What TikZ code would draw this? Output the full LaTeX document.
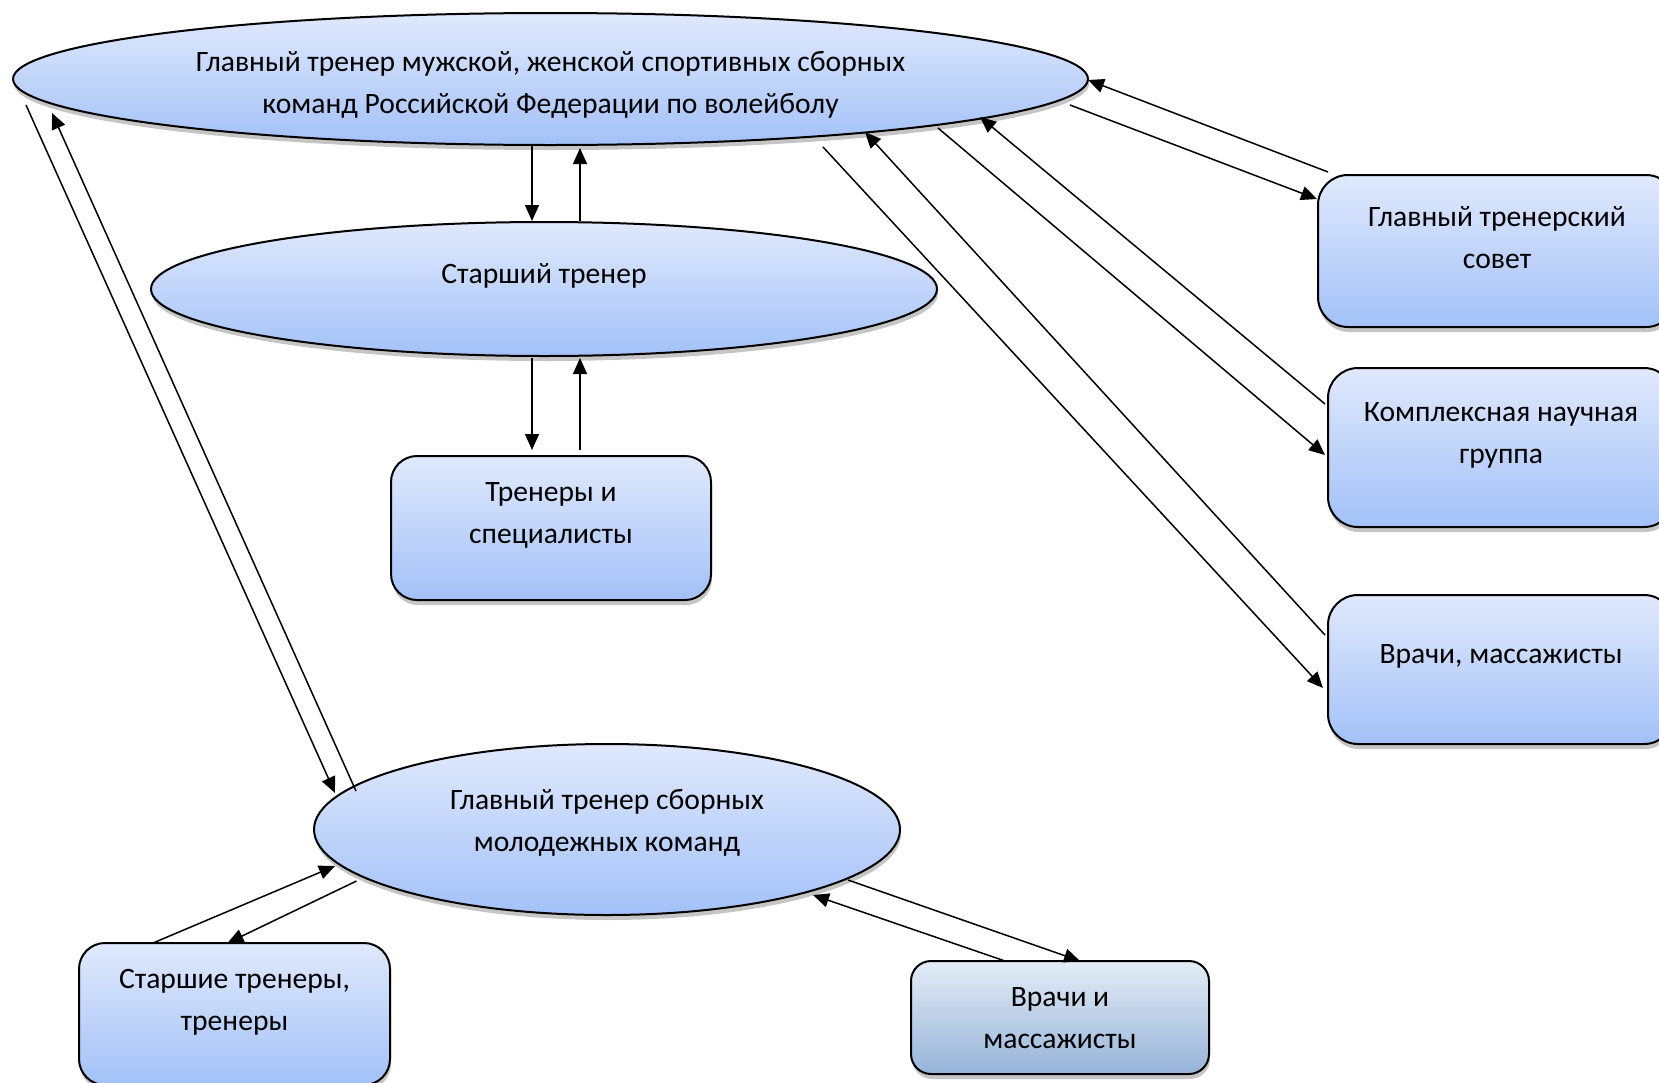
\documentclass[tikz,border=0pt]{standalone}
\usepackage{fontspec}
\setmainfont{Carlito}
\usetikzlibrary{shapes.geometric,shadows,calc,arrows.meta}
\definecolor{ltop}{RGB}{224,233,252}
\definecolor{lbot}{RGB}{163,193,248}
\definecolor{gtop}{RGB}{228,236,247}
\definecolor{gbot}{RGB}{150,180,216}
\tikzset{
  shad/.style={drop shadow={shadow xshift=0.5pt, shadow yshift=-2.5pt, fill=black!45, opacity=0.5}},
  ell/.style={ellipse, draw, line width=1pt, top color=ltop, bottom color=lbot, inner sep=0pt, shad},
  rbox/.style={rectangle, rounded corners=13pt, draw, line width=1pt, top color=ltop, bottom color=lbot, inner sep=0pt, shad},
  gbox/.style={rectangle, rounded corners=10pt, draw, line width=1pt, top color=gtop, bottom color=gbot, inner sep=0pt, shad},
  txt/.style={font=\fontsize{14.8pt}{21pt}\selectfont, align=center, inner sep=0pt},
  conn/.style={line width=0.75pt, -{Triangle[length=8pt,width=7pt]}}
}
\begin{document}
\begin{tikzpicture}[x=0.5pt,y=-0.5pt]
\path[use as bounding box] (0,0) rectangle (1659,1082);
\clip (0,0) rectangle (1659,1082);

\node[ell, minimum width=537.5pt, minimum height=66pt,
  label={[txt,yshift=-3pt]center:{Главный тренер мужской, женской спортивных сборных\\команд Российской Федерации по волейболу}}] (top) at (550.5,79) {};
\node[ell, minimum width=393pt, minimum height=67pt,
  label={[txt,yshift=6.5pt]center:{Старший тренер}}] (st) at (544,289) {};
\node[rbox, minimum width=160pt, minimum height=72pt,
  label={[txt,yshift=6.25pt]center:{Тренеры и\\специалисты}}] (tr) at (551,528) {};
\node[ell, minimum width=293pt, minimum height=85.5pt,
  label={[txt,yshift=3.5pt]center:{Главный тренер сборных\\молодежных команд}}] (ml) at (607,829.5) {};
\node[rbox, minimum width=155.5pt, minimum height=71pt,
  label={[txt,yshift=5.75pt]center:{Старшие тренеры,\\тренеры}}] (sr) at (234.5,1014) {};
\node[gbox, minimum width=149pt, minimum height=56.5pt,
  label={[txt,yshift=-0.5pt]center:{Врачи и\\массажисты}}] (vm) at (1060,1017.5) {};
\node[rbox, rounded corners=15pt, minimum width=179pt, minimum height=76pt,
  label={[txt,yshift=6.5pt]center:{Главный тренерский\\совет}}] (gs) at (1497,251) {};
\node[rbox, rounded corners=15pt, minimum width=173pt, minimum height=79.5pt,
  label={[txt,yshift=6.25pt]center:{Комплексная научная\\группа}}] (kn) at (1501,447.5) {};
\node[rbox, rounded corners=15pt, minimum width=173pt, minimum height=74.5pt,
  label={[txt,yshift=6.75pt]center:{Врачи, массажисты}}] (vr) at (1501,669.5) {};

% top <-> right boxes
\draw[conn] ($(gs.center)+(-169,-79)$) -- ($(top.center)+(537.5,1)$);
\draw[conn] ($(top.center)+(519.5,26)$) -- ($(gs.center)+(-180,-52)$);
\draw[conn] ($(kn.center)+(-176,-43.5)$) -- ($(top.center)+(429.5,38)$);
\draw[conn] ($(top.center)+(387.5,49)$) -- ($(kn.center)+(-176,7.5)$);
\draw[conn] ($(vr.center)+(-176,-34.5)$) -- ($(top.center)+(314.5,53)$);
\draw[conn] ($(top.center)+(272.5,68)$) -- ($(vr.center)+(-178,18.5)$);
% top <-> st
\draw[conn] ($(top.center)+(-18.5,67)$) -- ($(st.center)+(-12,-68)$);
\draw[conn] ($(st.center)+(36,-68)$) -- ($(top.center)+(29.5,69)$);
% st <-> tr
\draw[conn] ($(st.center)+(-12,68.5)$) -- ($(tr.center)+(-19,-78)$);
\draw[conn] ($(tr.center)+(29,-78)$) -- ($(st.center)+(36,69)$);
% top <-> ml
\draw[conn] ($(top.center)+(-524.5,26)$) -- ($(ml.center)+(-272,-36.5)$);
\draw[conn] ($(ml.center)+(-251,-38.5)$) -- ($(top.center)+(-498.5,34)$);
% ml <-> sr
\draw[conn] ($(sr.center)+(-81.5,-71)$) -- ($(ml.center)+(-272,36.5)$);
\draw[conn] ($(ml.center)+(-250.5,51.5)$) -- ($(sr.center)+(-7,-71)$);
% ml <-> vm
\draw[conn] ($(vm.center)+(-55,-56.5)$) -- ($(ml.center)+(206,65.5)$);
\draw[conn] ($(ml.center)+(241,50.5)$) -- ($(vm.center)+(20,-56.5)$);
\end{tikzpicture}
\end{document}
